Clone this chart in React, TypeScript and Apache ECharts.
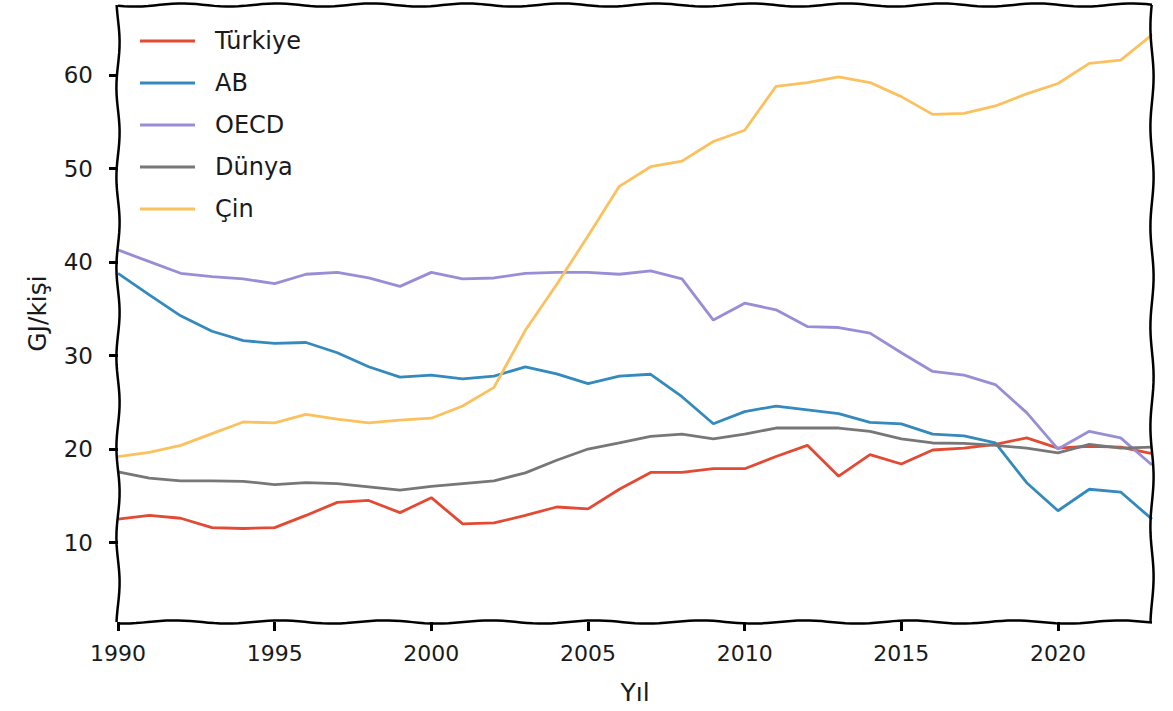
import React, { useEffect, useRef } from "react";
import * as echarts from "echarts";

const years = [1990,1991,1992,1993,1994,1995,1996,1997,1998,1999,2000,2001,2002,2003,2004,2005,2006,2007,2008,2009,2010,2011,2012,2013,2014,2015,2016,2017,2018,2019,2020,2021,2022,2023];
const turkiye = [12.5,12.9,12.6,11.6,11.5,11.6,12.9,14.3,14.5,13.2,14.8,12.0,12.1,12.9,13.8,13.6,15.7,17.5,17.5,17.9,17.9,19.2,20.4,17.1,19.4,18.4,19.9,20.1,20.5,21.2,20.1,20.3,20.2,19.5];
const ab = [38.8,36.5,34.25,32.6,31.6,31.3,31.4,30.3,28.8,27.7,27.9,27.5,27.8,28.8,28.05,27.0,27.8,28.0,25.6,22.7,24.0,24.6,24.2,23.8,22.85,22.7,21.6,21.4,20.65,16.4,13.4,15.7,15.4,12.5];
const oecd = [41.3,40.05,38.8,38.45,38.2,37.7,38.7,38.9,38.3,37.4,38.9,38.2,38.3,38.8,38.9,38.9,38.7,39.06,38.2,33.8,35.6,34.9,33.1,33.0,32.4,30.3,28.3,27.9,26.9,23.9,20.0,21.9,21.2,18.3];
const dunya = [17.55,16.9,16.6,16.6,16.55,16.2,16.4,16.3,15.95,15.6,16.0,16.3,16.6,17.45,18.8,20.0,20.65,21.35,21.6,21.1,21.6,22.25,22.25,22.25,21.9,21.1,20.65,20.6,20.4,20.1,19.6,20.5,20.1,20.2];
const cin = [19.2,19.65,20.4,21.65,22.9,22.8,23.7,23.2,22.8,23.1,23.3,24.6,26.6,32.7,37.6,42.8,48.1,50.2,50.8,52.9,54.1,58.8,59.2,59.8,59.2,57.7,55.8,55.9,56.7,58.0,59.1,61.25,61.6,64.3];

const seriesNames = ["Türkiye", "AB", "OECD", "Dünya", "Çin"];
const seriesData = [turkiye, ab, oecd, dunya, cin];
const colors = ["#E24A33", "#348ABD", "#988ED5", "#777777", "#FBC15E"];
const xTicks = [1990, 1995, 2000, 2005, 2010, 2015, 2020];
const yTicks = [10, 20, 30, 40, 50, 60];

const FONT = "'DejaVu Sans', Lato, sans-serif";

const GL = 118, GR = 1152, GT = 5, GB = 622;

function wiggle(x1: number, y1: number, x2: number, y2: number, amp: number, period: number, phase: number) {
  const pts: number[][] = [];
  const len = Math.hypot(x2 - x1, y2 - y1);
  const n = Math.max(2, Math.round(len / 6));
  const nx = -(y2 - y1) / len, ny = (x2 - x1) / len;
  for (let i = 0; i <= n; i++) {
    const t = i / n;
    const d = amp * Math.sin((t * len) / period * 2 * Math.PI + phase);
    pts.push([x1 + (x2 - x1) * t + nx * d, y1 + (y2 - y1) * t + ny * d]);
  }
  return pts;
}

export default function App() {
  const ref = useRef<HTMLDivElement>(null);
  useEffect(() => {
    document.body.style.margin = "0";
    const chart = echarts.init(ref.current!, null, { renderer: "svg" });
    const frameStyle = { stroke: "#000", lineWidth: 2.5, fill: "none" };
    chart.setOption({
      animation: false,
      backgroundColor: "#ffffff",
      grid: { left: GL, right: 1173 - GR, top: GT, bottom: 711 - GB, containLabel: false },
      legend: {
        left: 135,
        top: 24,
        orient: "vertical",
        icon: "rect",
        itemWidth: 55,
        itemHeight: 3,
        itemGap: 18,
        textStyle: { fontFamily: FONT, fontSize: 24, color: "#1a1a1a", padding: [0, 0, 0, 15] },
        data: seriesNames,
      },
      xAxis: {
        type: "value",
        min: 1990,
        max: 2023,
        splitLine: { show: false },
        axisLine: { show: false },
        axisTick: { show: true, customValues: xTicks, length: 9, lineStyle: { color: "#000", width: 3 } },
        axisLabel: { customValues: xTicks, fontFamily: FONT, fontSize: 22, color: "#1a1a1a", margin: 20, formatter: (v: number) => String(v) },
        name: "Yıl",
        nameLocation: "middle",
        nameGap: 58,
        nameTextStyle: { fontFamily: FONT, fontSize: 25, color: "#1a1a1a" },
      },
      yAxis: {
        type: "value",
        min: 1.5,
        max: 67.5,
        splitLine: { show: false },
        axisLine: { show: false },
        axisTick: { show: true, customValues: yTicks, length: 9, lineStyle: { color: "#000", width: 3 } },
        axisLabel: { customValues: yTicks, fontFamily: FONT, fontSize: 23, color: "#1a1a1a", margin: 25 },
        name: "GJ/kişi",
        nameLocation: "middle",
        nameRotate: 90,
        nameGap: 68,
        nameTextStyle: { fontFamily: FONT, fontSize: 25, color: "#1a1a1a" },
      },
      series: seriesNames.map((name, i) => ({
        name,
        type: "line",
        data: years.map((y, j) => [y, seriesData[i][j]]),
        showSymbol: false,
        symbol: "none",
        color: colors[i],
        lineStyle: { width: 2.8, color: colors[i] },
        z: 2 + i,
      })),
      graphic: [
        { type: "polyline", shape: { points: wiggle(GL, GT, GR, GT, 1.6, 95, 0.5) }, style: frameStyle, z: 100 },
        { type: "polyline", shape: { points: wiggle(GL, GB, GR, GB, 1.6, 105, 1.3) }, style: frameStyle, z: 100 },
        { type: "polyline", shape: { points: wiggle(GL, GT, GL, GB, 1.6, 90, 2.1) }, style: frameStyle, z: 100 },
        { type: "polyline", shape: { points: wiggle(GR, GT, GR, GB, 1.6, 100, 0.2) }, style: frameStyle, z: 100 },
      ],
    });
    return () => chart.dispose();
  }, []);
  return <div ref={ref} style={{ width: 1173, height: 711 }} />;
}
